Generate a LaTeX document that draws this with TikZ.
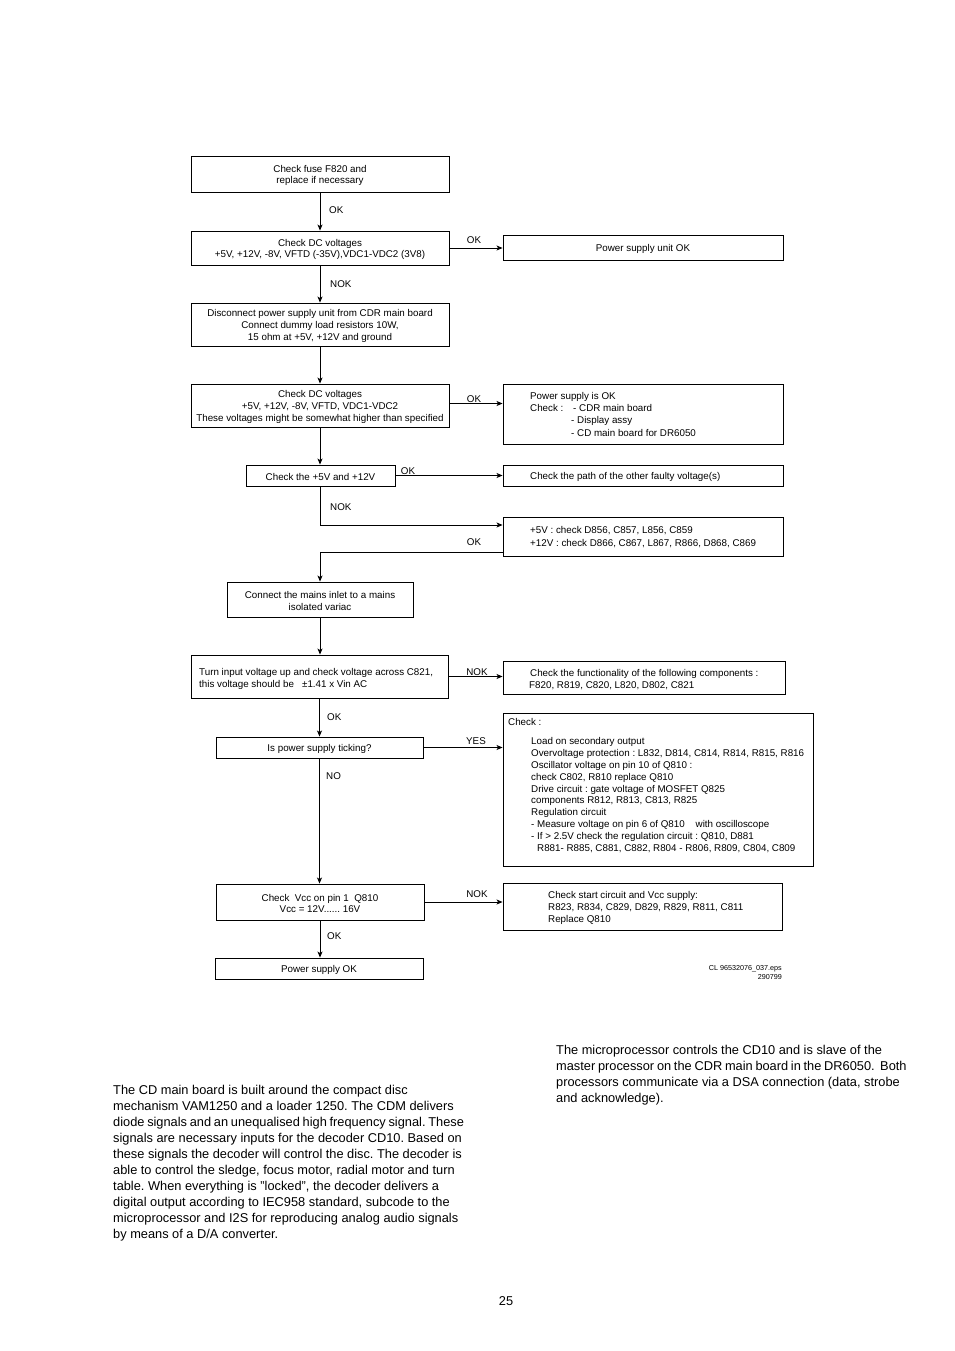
\documentclass[tikz,border=0pt]{standalone}
\usepackage{fontspec}
\setmainfont{Liberation Sans}
\usetikzlibrary{arrows.meta}
\newcommand\flowfont{\fontsize{9.8}{11.7}\selectfont\frenchspacing}
\newcommand\parafont{\fontsize{12.8}{16}\selectfont\frenchspacing}
\newcommand\dn[1]{\raisebox{-1.5pt}[\height][\depth]{#1}}
\newcommand\tight{\spaceskip=2.75pt\relax}
\begin{document}
\begin{tikzpicture}[x=1pt,y=-1pt,
  box/.style={draw, line width=0.9pt, inner sep=0pt, align=center, font=\flowfont},
  arr/.style={line width=0.9pt, -{Stealth[length=6pt,width=5pt,inset=1.5pt]}},
  ln/.style={anchor=mid west, inner sep=0pt, font=\flowfont, yshift=-1.5pt},
  lab/.style={inner sep=0pt, font=\flowfont, yshift=-1.5pt},
  para/.style={anchor=mid west, inner sep=0pt, font=\parafont, yshift=-2pt}]
\path[use as bounding box] (0,0) rectangle (954,1351);

% trunk boxes
\node[box, minimum width=258pt, minimum height=36pt] (b1) at (320,174) {\dn{Check fuse F820 and}\\\dn{replace if necessary}};
\node[box, minimum width=258pt, minimum height=34pt] (b2) at (320,248) {\dn{Check DC voltages}\\\dn{+5V, +12V, -8V, VFTD (-35V),VDC1-VDC2 (3V8)}};
\node[box, minimum width=258pt, minimum height=43pt] (b3) at (320,324.5) {\dn{Disconnect power supply unit from CDR main board}\\\dn{Connect dummy load resistors 10W,}\\\dn{15 ohm at +5V, +12V and ground}};
\node[box, minimum width=258pt, minimum height=43pt] (b4) at (320,405.5) {\dn{Check DC voltages}\\\dn{+5V, +12V, -8V, VFTD, VDC1-VDC2}\\\dn{These voltages might be somewhat higher than specified}};
\node[box, minimum width=149pt, minimum height=21pt] (b5) at (320.5,475.5) {\dn{Check the +5V and +12V}};
\node[box, minimum width=186pt, minimum height=35pt] (b7) at (320,599.5) {\dn{Connect the mains inlet to a mains}\\\dn{isolated variac}};
\node[box, minimum width=257pt, minimum height=43pt] (b8) at (319.5,676.5) {};
\node[box, minimum width=207pt, minimum height=21pt] (b9) at (319.5,747.5) {\dn{Is power supply ticking?}};
\node[box, minimum width=208pt, minimum height=36pt] (b10) at (320,902) {\dn{Check\ \ Vcc on pin 1\ \ Q810}\\\dn{Vcc = 12V...... 16V}};
\node[box, minimum width=208pt, minimum height=21pt] (b11) at (319,968.5) {\dn{Power supply OK}};

% right boxes
\node[box, minimum width=280pt, minimum height=25pt] (r2) at (643,247.5) {\dn{Power supply unit OK}};
\node[box, minimum width=280pt, minimum height=60pt] (r4) at (643,414) {};
\node[box, minimum width=280pt, minimum height=21pt] (r5) at (643,475.5) {};
\node[box, minimum width=280pt, minimum height=39pt] (r6) at (643,536.5) {};
\node[box, minimum width=282pt, minimum height=33pt] (r8) at (644,677.5) {};
\node[box, minimum width=310pt, minimum height=153pt] (r9) at (658,789.5) {};
\node[box, minimum width=279pt, minimum height=47pt] (r10) at (642.5,906.5) {};

% texts in boxes
\node[ln] at (199,671) {Turn input voltage up and check voltage across C821,};
\node[ln] at (199,683) {this voltage should be\ \ \ ±1.41 x Vin AC};

\node[ln] at (530,395) {Power supply is OK};
\node[ln] at (530,407) {Check :};
\node[ln] at (573,407) {- CDR main board};
\node[ln] at (571,419) {- Display assy};
\node[ln] at (571,432) {- CD main board for DR6050};

\node[ln] at (530,475.5) {Check the path of the other faulty voltage(s)};

\node[ln] at (530,529) {+5V : check D856, C857, L856, C859};
\node[ln] at (530,542) {+12V : check D866, C867, L867, R866, D868, C869};

\node[ln] at (530,672) {Check the functionality of the following components :};
\node[ln] at (529,684) {F820, R819, C820, L820, D802, C821};

\node[ln] at (508,721) {Check :};
\node[ln] at (531,740) {Load on secondary output};
\node[ln] at (531,752) {Overvoltage protection : L832, D814, C814, R814, R815, R816};
\node[ln] at (531,764) {Oscillator voltage on pin 10 of Q810 :};
\node[ln] at (531,776) {check C802, R810 replace Q810};
\node[ln] at (531,788) {Drive circuit : gate voltage of MOSFET Q825};
\node[ln] at (531,799.5) {components R812, R813, C813, R825};
\node[ln] at (531,811.5) {Regulation circuit};
\node[ln] at (531,823) {- Measure voltage on pin 6 of Q810\ \ \ \ with oscilloscope};
\node[ln] at (531,835) {- If > 2.5V check the regulation circuit : Q810, D881};
\node[ln] at (537,847) {R881- R885, C881, C882, R804 - R806, R809, C804, C809};

\node[ln] at (548,894) {Check start circuit and Vcc supply:};
\node[ln] at (548,906) {R823, R834, C829, D829, R829, R811, C811};
\node[ln] at (548,918) {Replace Q810};

% connectors
\draw[arr] (b1.south) -- (b1.south |- b2.north);
\node[lab, anchor=mid west] at (329,209) {OK};
\draw[arr] (b2.east) -- (b2.east -| r2.west);
\node[lab] at (474,239) {OK};
\draw[arr] (b2.south) -- (b2.south |- b3.north);
\node[lab, anchor=mid west] at (330,283) {NOK};
\draw[arr] (b3.south) -- (b3.south |- b4.north);
\draw[arr] ([yshift=2pt]b4.east) -- ([yshift=2pt]b4.east -| r4.west);
\node[lab] at (474,398) {OK};
\draw[arr] (b4.south) -- (b4.south |- b5.north);
\draw[arr] (b5.east) -- (b5.east -| r5.west);
\node[lab] at (408,470) {OK};
\draw[arr] (b5.south) |- ([yshift=11.5pt]r6.west);
\node[lab, anchor=mid west] at (330,506) {NOK};
\draw[arr] ([yshift=-15.5pt]r6.west) -| (b7.north);
\node[lab] at (474,541) {OK};
\draw[arr] (b7.south) -- (b7.south |- b8.north);
\draw[arr] (b8.east) -- (b8.east -| r8.west);
\node[lab] at (477,671) {NOK};
\draw[arr] (b8.south) -- (b8.south |- b9.north);
\node[lab, anchor=mid west] at (327,716) {OK};
\draw[arr] (b9.east) -- (b9.east -| r9.west);
\node[lab] at (476,740) {YES};
\draw[arr] (b9.south) -- (b9.south |- b10.north);
\node[lab, anchor=mid west] at (326,775) {NO};
\draw[arr] (b10.east) -- (b10.east -| r10.west);
\node[lab] at (477,893) {NOK};
\draw[arr] (b10.south) -- (b10.south |- b11.north);
\node[lab, anchor=mid west] at (327,935) {OK};

\node[anchor=mid east, inner sep=0pt, font=\fontsize{7.2}{8}\selectfont] at (782,967.5) {CL 96532076\_037.eps};
\node[anchor=mid east, inner sep=0pt, font=\fontsize{7.2}{8}\selectfont] at (782,976.5) {290799};

% paragraphs
\foreach \t [count=\i from 0] in {
 {The CD main board is built around the compact disc},
 {mechanism VAM1250 and a loader 1250. The CDM delivers},
 {\tight diode signals and an unequalised high frequency signal. These},
 {signals are necessary inputs for the decoder CD10. Based on},
 {these signals the decoder will control the disc. The decoder is},
 {able to control the sledge, focus motor, radial motor and turn},
 {table. When everything is "locked", the decoder delivers a},
 {digital output according to IEC958 standard, subcode to the},
 {microprocessor and I2S for reproducing analog audio signals},
 {by means of a D/A converter.}}
 \node[para] at (113,1090+16*\i) {\t};

\foreach \t [count=\i from 0] in {
 {The microprocessor controls the CD10 and is slave of the},
 {\tight master processor on the CDR main board in the DR6050.\ \ Both},
 {processors communicate via a DSA connection (data, strobe},
 {and acknowledge).}}
 \node[para] at (556,1050+16*\i) {\t};

\node[inner sep=0pt, font=\parafont, yshift=-2pt] at (506,1299) {25};
\end{tikzpicture}
\end{document}
